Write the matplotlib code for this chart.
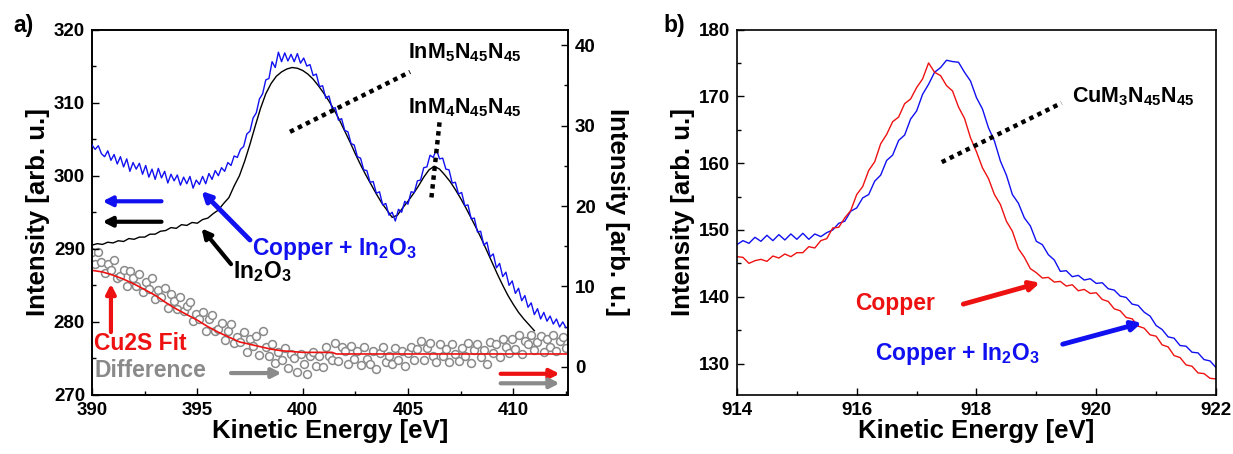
import numpy as np
import matplotlib
matplotlib.use("Agg")
import matplotlib.pyplot as plt
from matplotlib.ticker import MultipleLocator

plt.rcParams['font.family'] = ['Liberation Sans', 'DejaVu Sans']
plt.rcParams['font.weight'] = 'bold'
plt.rcParams['axes.labelweight'] = 'bold'
plt.rcParams['mathtext.fontset'] = 'custom'
plt.rcParams['mathtext.rm'] = 'Liberation Sans:bold'
plt.rcParams['mathtext.it'] = 'Liberation Sans:bold'
plt.rcParams['mathtext.bf'] = 'Liberation Sans:bold'

# ---------------- Panel a data ----------------
a_start, a_step = 390.0, 0.15
blue_a = [304.2, 303.6, 304.1, 303.0, 302.6, 303.4, 302.1, 302.9, 301.6, 302.6,
          301.2, 302.3, 300.6, 301.8, 300.9, 301.7, 300.2, 301.4, 299.8, 300.9,
          299.5, 301.0, 299.7, 300.6, 299.0, 300.2, 299.3, 300.1, 298.7, 299.8,
          298.9, 299.9, 298.3, 299.4, 298.8, 299.9, 298.9, 300.3, 299.5, 300.7,
          300.0, 301.1, 300.6, 301.8, 301.4, 302.7, 302.5, 303.6, 304.0, 305.7,
          306.1, 307.9, 308.6, 310.5, 311.2, 313.1, 313.3, 315.6, 314.8, 316.9,
          315.6, 316.8, 315.7, 316.6, 315.6, 316.7, 315.4, 316.1, 315.0, 315.2,
          313.7, 313.9, 312.2, 312.3, 310.6, 310.9, 309.2, 309.3, 307.6, 307.8,
          306.2, 306.0, 304.4, 304.2, 302.6, 302.4, 300.8, 300.7, 299.1, 299.2,
          297.6, 297.8, 296.0, 296.2, 294.6, 295.0, 293.8, 295.4, 295.0, 296.5,
          296.1, 297.8, 297.7, 299.3, 299.4, 301.1, 301.2, 302.8, 302.5, 303.6,
          302.3, 302.4, 300.9, 300.8, 299.0, 299.1, 297.5, 297.7, 295.9, 296.0,
          294.1, 294.2, 292.3, 292.4, 290.5, 290.9, 288.9, 289.3, 287.4, 288.0,
          286.2, 286.8, 285.0, 285.6, 283.9, 284.6, 282.9, 283.6, 282.0, 282.6,
          281.0, 281.8, 280.4, 281.3, 280.1, 280.8, 279.7, 280.4, 279.3, 280.0,
          279.2]

b_start, b_step = 390.0, 0.25
black_a = [290.5, 290.7, 290.6, 290.9, 290.8, 291.1, 291.0, 291.4, 291.3, 291.6,
           291.6, 292.0, 292.0, 292.4, 292.5, 292.9, 292.8, 293.3, 293.2, 293.6,
           293.5, 294.0, 294.2, 294.8, 295.3, 296.2, 297.0, 298.6, 300.0, 302.0,
           304.3, 306.8, 309.2, 311.2, 312.6, 313.6, 314.2, 314.6, 314.8, 314.7,
           314.4, 313.9, 313.2, 312.3, 311.3, 310.2, 309.0, 307.6, 306.1, 304.6,
           303.0, 301.5, 300.1, 298.8, 297.5, 296.3, 295.3, 294.3, 294.6, 295.6,
           296.5, 297.5, 298.6, 299.8, 300.8, 301.3, 300.9, 300.1, 299.2, 298.1,
           296.9, 295.6, 294.2, 292.8, 291.3, 289.7, 288.1, 286.5, 285.0, 283.6,
           282.4, 281.3, 280.4, 279.6, 278.8]

d_start, d_step = 390.0, 0.15
diff_a = [14.3, 12.8, 14.3, 13.0, 11.7, 12.8, 12.0, 13.3, 11.0, 11.3,
          12.0, 10.0, 11.9, 11.0, 10.0, 11.5, 9.3, 10.5, 9.7, 11.1,
          8.4, 9.6, 8.7, 9.8, 7.3, 9.1, 8.2, 7.2, 8.7, 6.9,
          7.6, 8.1, 5.7, 6.6, 5.9, 6.8, 4.5, 6.0, 6.4, 4.4,
          4.7, 5.5, 3.3, 4.5, 5.3, 3.0, 3.7, 3.1, 4.3, 1.9,
          3.5, 2.6, 3.8, 1.5, 4.4, 2.5, 1.3, 2.8, 0.5, 1.8,
          0.8, 2.3, -0.2, 1.6, 1.1, -0.6, 1.6, 0.3, -0.9, 1.3,
          1.9, 0.1, 1.4, 0.0, 2.5, 1.4, 0.9, 3.0, 0.7, 2.5,
          2.0, 0.4, 2.6, 1.0, 2.0, 0.2, 2.5, 1.0, 0.3, 2.0,
          -0.3, 1.7, 2.5, 0.6, 1.4, 0.3, 2.4, 0.9, 2.0, 0.1,
          1.7, 2.5, 0.8, 2.2, 3.2, 0.9, 2.3, 3.0, 1.4, 0.6,
          2.9, 1.4, 2.2, 0.6, 2.8, 1.6, 0.7, 2.4, 1.3, 3.0,
          0.5, 2.1, 2.8, 1.2, 2.1, 0.4, 3.1, 1.7, 2.8, 1.2,
          3.5, 2.5, 1.7, 3.4, 2.2, 3.9, 1.6, 3.2, 2.8, 4.0,
          2.1, 3.1, 3.8, 1.8, 3.4, 2.5, 3.9, 2.0, 3.2, 3.7,
          2.3]

fit_x = [390.0, 390.5, 391.0, 391.5, 392.0, 392.5, 393.0, 393.5, 394.0, 394.5,
         395.0, 395.5, 396.0, 396.5, 397.0, 397.5, 398.0, 398.5, 399.0, 399.5,
         400.0, 401.4, 401.6, 412.6]
fit_y = [12.0, 11.8, 11.4, 10.9, 10.3, 9.6, 8.9, 8.0, 7.2, 6.5,
         5.8, 5.0, 4.3, 3.7, 3.1, 2.8, 2.5, 2.2, 2.0, 1.9,
         1.8, 1.8, 1.6, 1.6]

# ---------------- Panel b data ----------------
c_start, c_step = 914.0, 0.1
copper_b = [146.0, 145.9, 145.0, 145.4, 145.6, 145.3, 146.1, 145.8, 146.4, 146.0,
            146.6, 146.6, 147.5, 147.3, 148.4, 148.7, 150.3, 150.4, 151.8, 152.9,
            155.3, 156.5, 158.9, 160.2, 162.9, 164.3, 166.2, 166.9, 168.9, 169.6,
            171.3, 172.6, 175.0, 173.6, 173.1, 171.6, 170.8, 168.4, 166.7, 163.8,
            161.7, 159.3, 157.7, 155.3, 153.8, 151.3, 149.8, 147.2, 145.9, 144.2,
            143.6, 142.8, 142.9, 142.2, 142.3, 141.6, 141.8, 140.9, 141.1, 140.5,
            140.6, 139.6, 139.3, 138.2, 137.9, 136.9, 136.7, 135.6, 135.3, 134.3,
            134.1, 132.8, 132.5, 131.2, 130.9, 129.8, 129.6, 128.6, 128.5, 127.8,
            127.7]
mixed_b = [147.8, 148.4, 148.0, 148.9, 148.3, 149.2, 148.4, 149.3, 148.5, 149.4,
           148.6, 149.5, 148.6, 149.4, 149.0, 149.6, 150.0, 151.0, 151.3, 152.8,
           153.3, 154.8, 155.3, 157.3, 158.2, 160.4, 161.2, 163.4, 164.2, 166.6,
           167.8, 170.3, 171.8, 173.6, 174.3, 175.4, 175.2, 175.1, 173.6, 172.3,
           169.8, 168.1, 165.3, 163.3, 160.3, 158.2, 155.3, 154.0, 151.8, 150.6,
           148.3, 147.8, 146.3, 145.5, 143.8, 143.9, 143.0, 143.2, 142.5, 142.7,
           142.0, 142.1, 141.2, 141.0, 140.1, 139.9, 138.9, 138.7, 137.7, 137.1,
           135.7, 135.1, 134.0, 133.8, 132.7, 132.6, 131.7, 131.6, 130.6, 130.4,
           129.4]

BLUE = '#1010f0'
RED = '#ee1111'
GRAY = '#8a8a8a'

LABEL_FS = 18.5
TICK_FS = 13.5
ANN_FS = 16.5
PEAK_FS = 15.5

fig = plt.figure(figsize=(12.33, 4.54), dpi=100)

def style_axis(ax):
    for s in ax.spines.values():
        s.set_linewidth(1.2)
    ax.tick_params(which='both', direction='in', labelsize=TICK_FS, width=1.0, pad=5)
    ax.tick_params(which='major', length=5)
    ax.tick_params(which='minor', length=3)

# ---------- Panel a ----------
ax = fig.add_axes([0.0746, 0.130, 0.3861, 0.805])
x_blue = a_start + a_step * np.arange(len(blue_a))
x_black = b_start + b_step * np.arange(len(black_a))
x_diff = d_start + d_step * np.arange(len(diff_a))

ax.plot(x_black, black_a, color='black', lw=1.0, zorder=3)
ax.plot(x_blue, blue_a, color=BLUE, lw=1.0, zorder=4)
ax.set_xlim(390, 412.6)
ax.set_ylim(270, 320)
ax.xaxis.set_major_locator(MultipleLocator(5))
ax.xaxis.set_minor_locator(MultipleLocator(2.5))
ax.yaxis.set_major_locator(MultipleLocator(10))
ax.yaxis.set_minor_locator(MultipleLocator(5))
style_axis(ax)
ax.tick_params(top=False, right=False)
ax.set_xlabel('Kinetic Energy [eV]', fontsize=LABEL_FS, labelpad=0)
ax.set_ylabel('Intensity [arb. u.]', fontsize=LABEL_FS, labelpad=3)

ax2 = ax.twinx()
ax2.scatter(x_diff, diff_a, s=32, facecolors='white', edgecolors=GRAY,
            linewidths=1.1, zorder=2)
ax2.plot(fit_x, fit_y, color=RED, lw=1.2, zorder=3)
ax2.set_ylim(-3.5, 41.95)
ax2.yaxis.set_major_locator(MultipleLocator(10))
ax2.yaxis.set_minor_locator(MultipleLocator(5))
style_axis(ax2)
ax2.set_ylabel('Intensity [arb. u.]', fontsize=LABEL_FS, rotation=270, labelpad=24)
ax.set_zorder(ax2.get_zorder() + 1)
ax.patch.set_visible(False)

# annotations panel a (left axis coords)
ax.plot([399.4, 405.1], [306.0, 314.2], color='black', lw=3.2, ls=(0, (1, 1)), zorder=5)
ax.plot([406.5, 406.1], [307.3, 296.6], color='black', lw=3.2, ls=(0, (1, 1)), zorder=5)
ax.text(405.0, 316.8, r'InM$_5$N$_{45}$N$_{45}$', fontsize=PEAK_FS, va='center', ha='left')
ax.text(405.0, 309.3, r'InM$_4$N$_{45}$N$_{45}$', fontsize=PEAK_FS, va='center', ha='left')

arrow_kw = dict(arrowstyle='-|>,head_length=0.55,head_width=0.28', lw=3, shrinkA=0, shrinkB=0)
ax.annotate('', xy=(390.5, 296.5), xytext=(393.3, 296.5),
            arrowprops=dict(color=BLUE, **arrow_kw))
ax.annotate('', xy=(390.5, 293.7), xytext=(393.3, 293.7),
            arrowprops=dict(color='black', **arrow_kw))
ax.annotate('', xy=(395.2, 297.9), xytext=(397.5, 291.2),
            arrowprops=dict(color=BLUE, **dict(arrow_kw, lw=3.5)))
ax.annotate('', xy=(395.2, 292.8), xytext=(396.6, 287.9),
            arrowprops=dict(color='black', **arrow_kw))
ax.text(397.6, 290.0, r'Copper + In$_\mathbf{2}$O$_\mathbf{3}$', color=BLUE,
        fontsize=ANN_FS, va='center', ha='left')
ax.text(396.7, 286.9, r'In$_\mathbf{2}$O$_\mathbf{3}$', color='black',
        fontsize=ANN_FS, va='center', ha='left')
ax.annotate('', xy=(390.9, 285.2), xytext=(390.9, 278.6),
            arrowprops=dict(color=RED, **arrow_kw))
ax.text(390.1, 277.1, 'Cu2S Fit', color=RED, fontsize=ANN_FS, va='center', ha='left')
ax.text(390.1, 273.4, 'Difference', color=GRAY, fontsize=ANN_FS, va='center', ha='left')
ax.annotate('', xy=(399.0, 273.0), xytext=(396.6, 273.0),
            arrowprops=dict(color=GRAY, **arrow_kw))
ax.annotate('', xy=(412.2, 272.9), xytext=(409.4, 272.9),
            arrowprops=dict(color=RED, **arrow_kw))
ax.annotate('', xy=(412.2, 271.6), xytext=(409.4, 271.6),
            arrowprops=dict(color=GRAY, **arrow_kw))

fig.text(0.011, 0.943, 'a)', fontsize=16.5, va='center', ha='left')

# ---------- Panel b ----------
bx = fig.add_axes([0.5977, 0.130, 0.3885, 0.805])
x_b = c_start + c_step * np.arange(len(copper_b))
bx.plot(x_b, mixed_b, color=BLUE, lw=1.0)
bx.plot(x_b, copper_b, color=RED, lw=1.0)
bx.set_xlim(914, 922)
bx.set_ylim(125.3, 180)
bx.xaxis.set_major_locator(MultipleLocator(2))
bx.xaxis.set_minor_locator(MultipleLocator(1))
bx.yaxis.set_major_locator(MultipleLocator(10))
bx.yaxis.set_minor_locator(MultipleLocator(5))
style_axis(bx)
bx.tick_params(top=False, right=False)
bx.set_xlabel('Kinetic Energy [eV]', fontsize=LABEL_FS, labelpad=0)
bx.set_ylabel('Intensity [arb. u.]', fontsize=LABEL_FS, labelpad=3)

bx.plot([917.42, 919.42], [160.15, 169.0], color='black', lw=3.2, ls=(0, (1, 1)))
bx.text(919.6, 170.0, r'CuM$_3$N$_{45}$N$_{45}$', fontsize=PEAK_FS, va='center', ha='left')
bx.annotate('', xy=(919.06, 142.1), xytext=(917.78, 138.9),
            arrowprops=dict(color=RED, **dict(arrow_kw, lw=3.5)))
bx.text(915.97, 139.0, 'Copper', color=RED, fontsize=ANN_FS, va='center', ha='left')
bx.annotate('', xy=(920.76, 136.1), xytext=(919.44, 132.9),
            arrowprops=dict(color=BLUE, **dict(arrow_kw, lw=3.5)))
bx.text(916.3, 131.4, r'Copper + In$_\mathbf{2}$O$_\mathbf{3}$', color=BLUE,
        fontsize=ANN_FS, va='center', ha='left')

fig.text(0.538, 0.943, 'b)', fontsize=16.5, va='center', ha='left')

fig.canvas.draw()
for a in (ax, ax2, bx):
    for lab in a.get_xticklabels() + a.get_yticklabels():
        lab.set_fontweight('bold')

fig.savefig('out.png', dpi=100)
